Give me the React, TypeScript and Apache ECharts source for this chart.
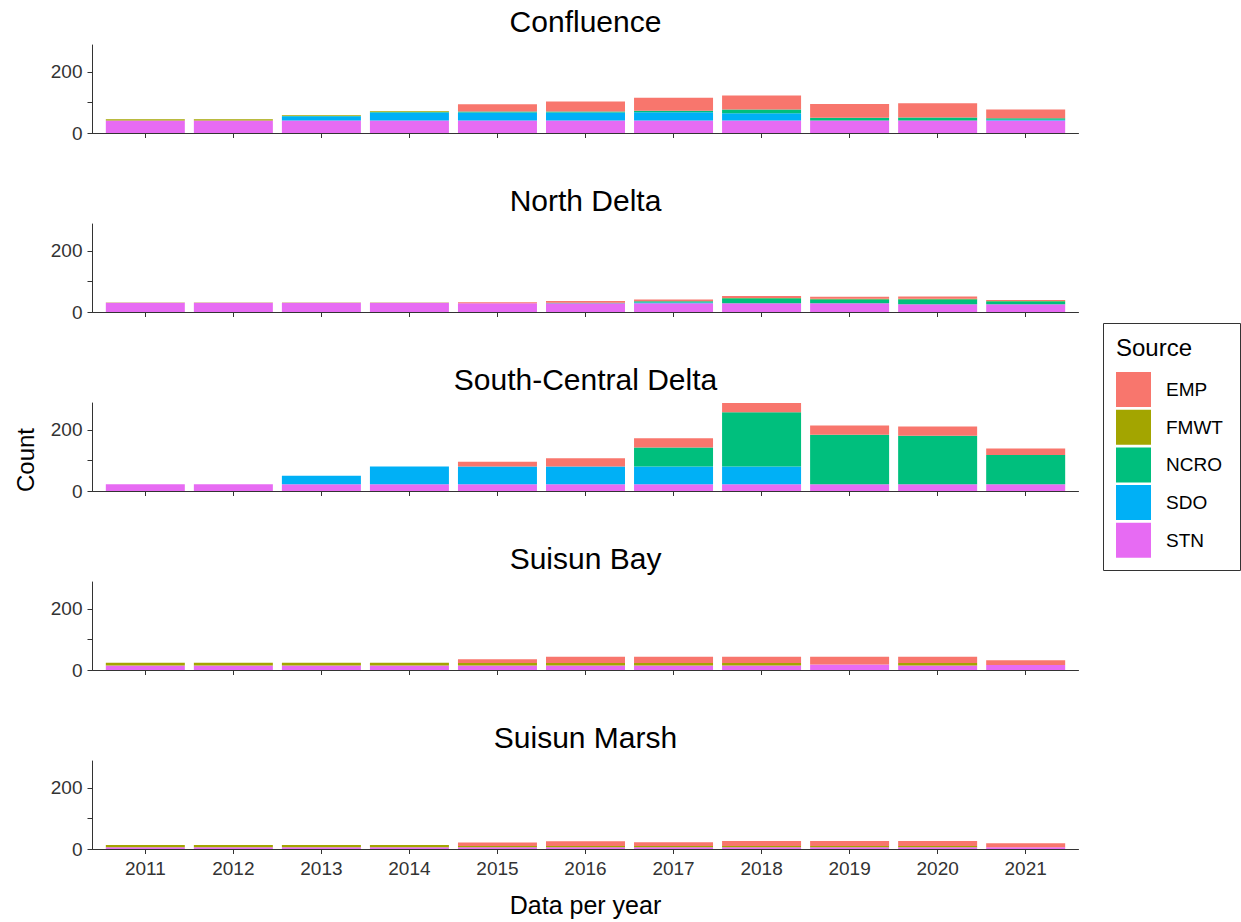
import React, { useEffect, useRef } from "react";
import * as echarts from "echarts";

const years = ["2011", "2012", "2013", "2014", "2015", "2016", "2017", "2018", "2019", "2020", "2021"];
const regions = ["Confluence", "North Delta", "South-Central Delta", "Suisun Bay", "Suisun Marsh"];
const legendOrder = ["EMP", "FMWT", "NCRO", "SDO", "STN"];
const stackOrder = ["STN", "SDO", "NCRO", "FMWT", "EMP"];
const sourceColors: Record<string, string> = {
  EMP: "#F8766D",
  FMWT: "#A3A500",
  NCRO: "#00BF7D",
  SDO: "#00B0F6",
  STN: "#E76BF3",
};
const yTicks = [0, 100, 200];
const yLabels = [0, 200];

// Confluence
const confluenceSTN = [41, 41, 41, 41, 41, 41, 41, 41, 41, 41, 41];
const confluenceSDO = [0, 0, 14, 26, 26, 26, 27, 24, 0, 0, 2];
const confluenceNCRO = [0, 0, 1, 2, 3, 3, 5, 12, 9, 10, 5];
const confluenceFMWT = [4, 4, 2, 2, 0, 0, 0, 0, 0, 0, 0];
const confluenceEMP = [0, 0, 0, 0, 24, 33, 42, 46, 45, 46, 29];

// North Delta
const northSTN = [30, 30, 30, 30, 29, 29, 29, 29, 29, 25, 25];
const northSDO = [0, 0, 0, 0, 0, 0, 2, 0, 0, 0, 0];
const northNCRO = [0, 0, 0, 0, 0, 1, 4, 16, 13, 17, 10];
const northFMWT = [1, 1, 1, 1, 0, 0, 0, 1, 1, 1, 1];
const northEMP = [0, 0, 0, 0, 3, 6, 6, 6, 7, 8, 3];

// South-Central Delta
const southSTN = [22, 22, 22, 22, 22, 22, 22, 22, 22, 22, 22];
const southSDO = [0, 0, 28, 58, 58, 58, 58, 58, 0, 0, 0];
const southNCRO = [0, 0, 0, 0, 0, 0, 62, 178, 162, 159, 96];
const southFMWT = [0, 0, 0, 0, 0, 0, 0, 0, 0, 0, 0];
const southEMP = [0, 0, 0, 0, 16, 27, 31, 30, 30, 30, 21];

// Suisun Bay
const baySTN = [15, 15, 15, 15, 15, 15, 15, 15, 18, 15, 16];
const baySDO = [0, 0, 0, 0, 0, 0, 0, 0, 0, 0, 0];
const bayNCRO = [0, 0, 0, 0, 0, 0, 0, 0, 0, 0, 0];
const bayFMWT = [9, 9, 9, 9, 8, 8, 8, 8, 0, 8, 0];
const bayEMP = [0, 0, 0, 0, 12, 20, 20, 20, 25, 20, 16];

// Suisun Marsh
const marshSTN = [6, 6, 6, 6, 6, 6, 6, 6, 6, 6, 6];
const marshSDO = [0, 0, 0, 0, 0, 0, 0, 0, 0, 0, 0];
const marshNCRO = [0, 0, 0, 0, 0, 0, 0, 0, 0, 0, 0];
const marshFMWT = [7, 7, 7, 7, 4, 4, 4, 4, 4, 4, 0];
const marshEMP = [0, 0, 0, 0, 11, 15, 12, 16, 16, 16, 13];

const regionData: Record<string, number[]>[] = [
  { STN: confluenceSTN, SDO: confluenceSDO, NCRO: confluenceNCRO, FMWT: confluenceFMWT, EMP: confluenceEMP },
  { STN: northSTN, SDO: northSDO, NCRO: northNCRO, FMWT: northFMWT, EMP: northEMP },
  { STN: southSTN, SDO: southSDO, NCRO: southNCRO, FMWT: southFMWT, EMP: southEMP },
  { STN: baySTN, SDO: baySDO, NCRO: bayNCRO, FMWT: bayFMWT, EMP: bayEMP },
  { STN: marshSTN, SDO: marshSDO, NCRO: marshNCRO, FMWT: marshFMWT, EMP: marshEMP },
];

const FONT = "'Liberation Sans', Arial, Helvetica, sans-serif";
const AXIS_COLOR = "#333333";
const TEXT_COLOR = "#333333";

export default function App() {
  const ref = useRef<HTMLDivElement>(null);

  useEffect(() => {
    if (!ref.current) return;
    const chart = echarts.init(ref.current, undefined, { renderer: "svg" });

    const gridLeft = 92.5;
    const gridRight = 1241 - 1078.5;
    const panelTop0 = 45;
    const panelStep = 179;
    const panelH = 88;
    const xPositions = years.map((_, j) => j + 1);

    const grids = regions.map((_, i) => ({
      left: gridLeft,
      right: gridRight,
      top: panelTop0 + i * panelStep,
      height: panelH,
      containLabel: false,
    }));

    const xAxes = regions.map((_, i) => ({
      type: "value",
      gridIndex: i,
      min: 0.4,
      max: 11.6,
      splitLine: { show: false },
      axisLine: { show: true, onZero: false, lineStyle: { color: AXIS_COLOR, width: 1 } },
      axisTick: { show: true, length: 5, customValues: xPositions, lineStyle: { color: AXIS_COLOR } },
      axisLabel: {
        show: i === regions.length - 1,
        customValues: xPositions,
        formatter: (v: number) => years[Math.round(v) - 1] ?? "",
        fontSize: 19,
        fontFamily: FONT,
        color: TEXT_COLOR,
        margin: 10,
      },
    }));

    const yAxes = regions.map((_, i) => ({
      type: "value",
      gridIndex: i,
      min: 0,
      max: 288,
      splitLine: { show: false },
      axisLine: { show: true, lineStyle: { color: AXIS_COLOR, width: 1 } },
      axisTick: { show: true, length: 5, customValues: yTicks, lineStyle: { color: AXIS_COLOR } },
      axisLabel: {
        customValues: yLabels,
        fontSize: 19,
        fontFamily: FONT,
        color: TEXT_COLOR,
        margin: 10,
      },
    }));

    const series: any[] = [];
    regions.forEach((_, i) => {
      stackOrder.forEach((src) => {
        series.push({
          type: "bar",
          name: src,
          xAxisIndex: i,
          yAxisIndex: i,
          stack: "region" + i,
          barWidth: 79,
          // value first so that the stack is applied on the count dimension
          encode: { x: 1, y: 0 },
          data: regionData[i][src].map((v, j) => [v, xPositions[j]]),
          itemStyle: { color: sourceColors[src] },
          emphasis: { disabled: true },
        });
      });
    });

    const graphics: any[] = regions.map((name, i) => ({
      type: "text",
      x: (92.5 + 1078.5) / 2,
      y: 21 + i * panelStep,
      style: {
        text: name,
        textAlign: "center",
        textVerticalAlign: "middle",
        font: `30px ${FONT}`,
        fill: "#000000",
      },
    }));
    graphics.push({
      type: "text",
      x: 25,
      y: 460,
      rotation: Math.PI / 2,
      style: {
        text: "Count",
        textAlign: "center",
        textVerticalAlign: "middle",
        font: `24px ${FONT}`,
        fill: "#000000",
      },
    });
    graphics.push({
      type: "text",
      x: 585.5,
      y: 905,
      style: {
        text: "Data per year",
        textAlign: "center",
        textVerticalAlign: "middle",
        font: `25px ${FONT}`,
        fill: "#000000",
      },
    });
    graphics.push({
      type: "rect",
      shape: { x: 1103.5, y: 323.5, width: 137, height: 247 },
      style: { fill: "none", stroke: "#333333", lineWidth: 1 },
      z: 1,
    });
    graphics.push({
      type: "text",
      x: 1116,
      y: 347,
      style: {
        text: "Source",
        textAlign: "left",
        textVerticalAlign: "middle",
        font: `24px ${FONT}`,
        fill: "#000000",
      },
    });

    chart.setOption({
      animation: false,
      grid: grids,
      xAxis: xAxes,
      yAxis: yAxes,
      series,
      legend: {
        data: legendOrder,
        orient: "vertical",
        left: 1116,
        top: 372,
        padding: 0,
        itemWidth: 35,
        itemHeight: 35,
        itemGap: 2.7,
        icon: "rect",
        selectedMode: false,
        textStyle: { fontSize: 19, fontFamily: FONT, color: "#000000", padding: [0, 0, 0, 10] },
      },
      graphic: graphics,
    });

    return () => {
      chart.dispose();
    };
  }, []);

  return (
    <div
      ref={ref}
      style={{ position: "fixed", left: 0, top: 0, width: 1241, height: 922, background: "#ffffff" }}
    />
  );
}
